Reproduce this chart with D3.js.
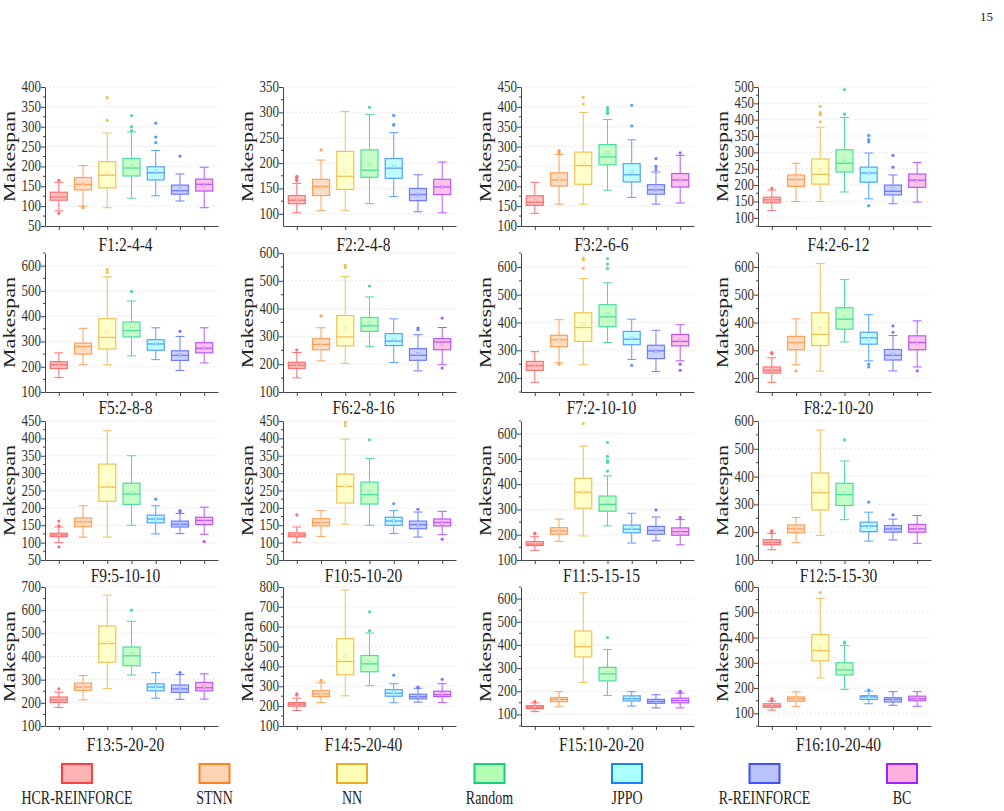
<!DOCTYPE html>
<html>
<head>
<meta charset="utf-8">
<script src="https://cdn.jsdelivr.net/npm/d3@7"></script>
<style>
  body { margin: 0; background: #fff; }
  svg { display: block; }
  text { font-family: "Liberation Serif", Tinos, "Times New Roman", Times, "Nimbus Roman", "DejaVu Serif Condensed", serif; fill: #222; }
</style>
</head>
<body>
<svg id="chart" width="1004" height="811"></svg>
<script>
var methods = ["HCR-REINFORCE", "STNN", "NN", "Random", "JPPO", "R-REINFORCE", "BC"];
var strokeColors = ["#ff4040", "#ff8020", "#eaae22", "#12d080", "#1f80ff", "#3f50ff", "#a020ff"];
var fillColors = ["#ffb3b3", "#ffd4b4", "#ffffb8", "#b4ffb4", "#aaffff", "#bbc3ff", "#ffb0e0"];

var titles = ["F1:2-4-4", "F2:2-4-8", "F3:2-6-6", "F4:2-6-12", "F5:2-8-8", "F6:2-8-16",
  "F7:2-10-10", "F8:2-10-20", "F9:5-10-10", "F10:5-10-20", "F11:5-15-15", "F12:5-15-30",
  "F13:5-20-20", "F14:5-20-40", "F15:10-20-20", "F16:10-20-40"];
var yDomains = [[50,400],[76,350],[100,450],[75,500],[100,650],[100,600],[150,650],[150,650],
  [50,450],[50,450],[100,650],[100,600],[100,700],[100,800],[50,650],[50,600]];
var tickSteps = [50,50,50,50,100,100,100,100,50,50,100,100,100,100,100,100];

// each box: [whisker low, Q1, median, Q3, whisker high, mean, outliers]
var f1 = [[88,115,123,135,160,127,[165,82]], [100,141,155,172,202,156,[96]], [96,146,178,212,284,185,[316,373]],
  [120,176,196,220,287,200,[290,300,328]], [126,166,184,199,240,187,[260,274,309]], [113,130,139,153,181,143,[226]],
  [96,138,155,168,198,152,[]]];
var f2 = [[102,120,127,136,160,128,[165,168,172,174]], [106,136,154,168,206,153,[226]], [106,148,174,223,302,184,[]],
  [120,172,186,226,296,197,[310]], [134,170,190,209,260,192,[275,276,294]], [104,126,138,150,177,138,[]],
  [102,138,153,168,202,153,[]]];
var f3 = [[132,152,160,176,210,164,[]], [155,201,216,234,280,218,[284,290]], [155,205,252,286,386,258,[407,424]],
  [190,254,274,305,368,284,[383,386,392,398]], [172,211,229,257,317,237,[352,404]], [155,180,191,204,236,192,[242,250,270]],
  [158,198,216,232,278,217,[284]]];
var f4 = [[122,146,155,163,185,155,[190]], [150,196,217,231,267,215,[]], [150,203,233,280,377,247,[393,415,417,422,441]],
  [179,240,267,308,407,279,[417,492]], [158,209,237,255,298,236,[137,332,339,352]], [143,170,181,200,231,188,[255,291]],
  [148,193,215,234,269,213,[]]];
var f5 = [[157,193,208,220,255,210,[]], [208,250,280,293,352,273,[]], [208,270,316,390,556,338,[573,585]],
  [243,318,343,377,460,350,[498]], [228,265,290,307,354,289,[]], [185,225,245,263,320,246,[340]],
  [215,255,273,295,354,274,[]]];
var f6 = [[151,185,196,207,242,197,[251]], [212,252,271,292,331,271,[374]], [203,266,298,375,515,327,[548,556]],
  [263,318,338,368,442,347,[481]], [206,267,283,310,363,287,[]], [176,214,232,256,306,236,[324,330]],
  [198,252,280,292,332,272,[186,366]]];
var f7 = [[185,228,245,260,295,245,[]], [255,313,338,354,410,335,[250]], [248,332,382,435,558,395,[595,625,632]],
  [328,385,420,464,543,430,[595,610,630]], [267,320,340,368,412,343,[246]], [224,270,298,318,372,296,[]],
  [262,316,332,357,392,335,[250,228]]];
var f8 = [[185,218,228,240,273,230,[288,292]], [248,302,328,350,413,325,[226]], [225,317,357,435,612,377,[]],
  [330,376,412,453,555,420,[]], [262,322,345,365,428,342,[240,250]], [226,265,282,303,353,285,[365,388]],
  [240,302,328,352,406,325,[226]]];
var f9 = [[100,117,122,127,145,123,[148,162,88]], [116,146,160,171,206,158,[]], [116,219,260,326,422,270,[]],
  [150,210,240,271,350,243,[]], [125,157,168,179,206,168,[225]], [126,145,153,162,184,155,[188,192]],
  [124,152,164,173,202,160,[103]]];
var f10 = [[101,117,122,128,145,123,[180]], [118,148,158,169,192,157,[]], [153,214,262,297,398,262,[437,446]],
  [150,211,238,274,342,245,[396]], [126,150,162,173,192,162,[212]], [116,140,152,162,188,150,[196]],
  [123,148,158,168,190,157,[110]]];
var f11 = [[138,157,163,173,192,165,[204,206]], [174,202,215,228,262,215,[]], [195,305,368,423,550,370,[640]],
  [235,293,320,353,433,330,[452,485,493,510,565]], [167,208,222,238,285,225,[]], [176,202,217,233,270,220,[298]],
  [160,198,212,227,260,212,[268]]];
var f12 = [[137,155,163,173,195,165,[202,205]], [162,198,212,226,253,210,[]], [188,280,342,413,567,350,[]],
  [245,296,335,376,456,340,[532]], [168,202,222,236,272,220,[308]], [172,200,212,224,247,213,[262]],
  [160,200,212,228,260,214,[]]];
var f13 = [[180,202,213,225,246,215,[260]], [213,254,268,285,318,270,[]], [262,375,456,532,665,458,[]],
  [320,360,403,441,552,410,[600]], [220,252,268,282,330,268,[]], [215,245,260,277,322,262,[330]],
  [216,252,265,288,325,268,[]]];
var f14 = [[178,200,210,218,240,210,[255,262]], [218,248,262,278,318,262,[330]], [252,358,425,540,785,450,[]],
  [303,373,413,455,568,420,[580,675]], [217,250,265,283,313,267,[356]], [220,237,248,260,290,250,[292,296]],
  [218,248,258,275,313,262,[335]]];
var f15 = [[112,125,131,138,150,132,[155]], [133,155,165,173,198,165,[]], [238,348,392,460,625,402,[]],
  [182,245,275,303,380,278,[432]], [136,158,168,180,198,168,[]], [128,148,156,165,185,156,[]],
  [128,150,160,170,192,160,[196,200]]];
var f16 = [[113,124,130,138,148,132,[152,158]], [128,148,157,165,185,157,[]], [240,308,348,412,555,362,[578]],
  [195,252,272,300,368,278,[378,382]], [138,155,165,170,188,165,[192]], [132,145,155,162,186,155,[]],
  [128,150,158,168,186,158,[]]];

var panels = [f1, f2, f3, f4, f5, f6, f7, f8, f9, f10, f11, f12, f13, f14, f15, f16];

// layout
var colX = [45, 283, 521, 758];
var rowY = [87, 253, 421, 587];
var titleY = [245, 408, 576, 745];
var plotW = 173, plotH = 139;
var boxW = 17, capW = 9;
var axisColor = "#444";

var svg = d3.select("#chart");

// text stretched a bit vertically, like the source figure
function stretchText(g, x, y, str, size, sy, anchor) {
  return g.append("text")
    .attr("transform", "translate(" + x + "," + y + ") scale(1," + sy + ")")
    .attr("text-anchor", anchor || "middle")
    .style("font-size", size + "px")
    .text(str);
}

svg.append("text").attr("x", 993).attr("y", 21).attr("text-anchor", "end")
  .style("font-size", "13px").text("15");

panels.forEach(function(data, p) {
  var col = p % 4, row = Math.floor(p / 4);
  var x0 = colX[col], top = rowY[row], bottom = top + plotH;
  var dom = yDomains[p], step = tickSteps[p];
  var g = svg.append("g");

  var y = d3.scaleLinear().domain(dom).range([bottom, top]);
  var x = d3.scalePoint().domain(methods).range([x0, x0 + plotW]).padding(0.57);

  var ticks = d3.range(Math.ceil(dom[0] / step) * step, dom[1] + 0.1, step);
  var minor = d3.range(Math.ceil(dom[0] / (step / 2)) * (step / 2), dom[1] + 0.1, step / 2)
    .filter(function(v) { return ticks.indexOf(v) < 0; });

  // grid
  g.selectAll("line.grid").data(ticks.filter(function(v) { return v > dom[0]; }))
    .enter().append("line")
    .attr("x1", x0).attr("x2", x0 + plotW)
    .attr("y1", function(d) { return y(d); }).attr("y2", function(d) { return y(d); })
    .attr("stroke", "#e2e2e2").attr("stroke-width", 0.8).attr("stroke-dasharray", "2,2");

  // boxes
  data.forEach(function(b, i) {
    var cx = x(methods[i]);
    var sc = strokeColors[i], fc = fillColors[i];
    var bg = g.append("g").attr("opacity", 0.75);
    bg.append("line").attr("x1", cx).attr("x2", cx).attr("y1", y(b[0])).attr("y2", y(b[1]))
      .attr("stroke", sc).attr("stroke-width", 1);
    bg.append("line").attr("x1", cx).attr("x2", cx).attr("y1", y(b[3])).attr("y2", y(b[4]))
      .attr("stroke", sc).attr("stroke-width", 1);
    [b[0], b[4]].forEach(function(v) {
      bg.append("line").attr("x1", cx - capW / 2).attr("x2", cx + capW / 2)
        .attr("y1", y(v)).attr("y2", y(v)).attr("stroke", sc).attr("stroke-width", 1);
    });
    bg.append("rect").attr("x", cx - boxW / 2).attr("width", boxW)
      .attr("y", y(b[3])).attr("height", y(b[1]) - y(b[3]))
      .attr("fill", fc).attr("stroke", sc).attr("stroke-width", 1.2);
    bg.append("line").attr("x1", cx - boxW / 2).attr("x2", cx + boxW / 2)
      .attr("y1", y(b[2])).attr("y2", y(b[2])).attr("stroke", sc).attr("stroke-width", 1.3);
    bg.append("rect").attr("x", cx - 1.5).attr("y", y(b[5]) - 1.5).attr("width", 3).attr("height", 3)
      .attr("fill", fc).attr("stroke", sc).attr("stroke-width", 0.5).attr("opacity", 0.6);
    b[6].forEach(function(o) {
      bg.append("circle").attr("cx", cx).attr("cy", y(o)).attr("r", 1.6).attr("fill", sc);
    });
  });

  // y axis
  var ya = g.append("g").attr("transform", "translate(" + x0 + ",0)")
    .call(d3.axisLeft(y).tickValues(ticks).tickSize(4).tickSizeOuter(0).tickFormat(d3.format("d")));
  ya.select(".domain").attr("stroke", axisColor);
  ya.selectAll(".tick line").attr("stroke", axisColor);
  ya.selectAll(".tick text").remove();
  ticks.forEach(function(v) {
    stretchText(g, x0 - 4, y(v) + 5, v, 13, 1.22, "end").style("fill", "#333");
  });
  g.selectAll("line.minor").data(minor).enter().append("line")
    .attr("x1", x0 - 2).attr("x2", x0)
    .attr("y1", function(d) { return y(d); }).attr("y2", function(d) { return y(d); })
    .attr("stroke", axisColor);

  // x axis
  var xa = g.append("g").attr("transform", "translate(0," + bottom + ")")
    .call(d3.axisBottom(x).tickSize(4).tickSizeOuter(0).tickFormat(""));
  xa.select(".domain").attr("stroke", axisColor);
  xa.selectAll(".tick line").attr("stroke", axisColor);

  // labels
  g.append("text")
    .attr("transform", "translate(" + (x0 - 30) + "," + ((top + bottom) / 2) + ") rotate(-90) scale(1.35,1)")
    .attr("text-anchor", "middle")
    .style("font-size", "16.5px")
    .text("Makespan");
  stretchText(g, x0 + plotW / 2 - 6, titleY[row] + 6, titles[p], 15.5, 1.2);
});

// legend
var legend = svg.append("g");
methods.forEach(function(m, i) {
  var cx = 77 + 137.5 * i;
  legend.append("rect").attr("x", cx - 15).attr("y", 764).attr("width", 30).attr("height", 19)
    .attr("fill", fillColors[i]).attr("stroke", strokeColors[i]).attr("stroke-width", 2);
  stretchText(legend, cx, 804, m, 14, 1.3);
});
</script>
</body>
</html>
